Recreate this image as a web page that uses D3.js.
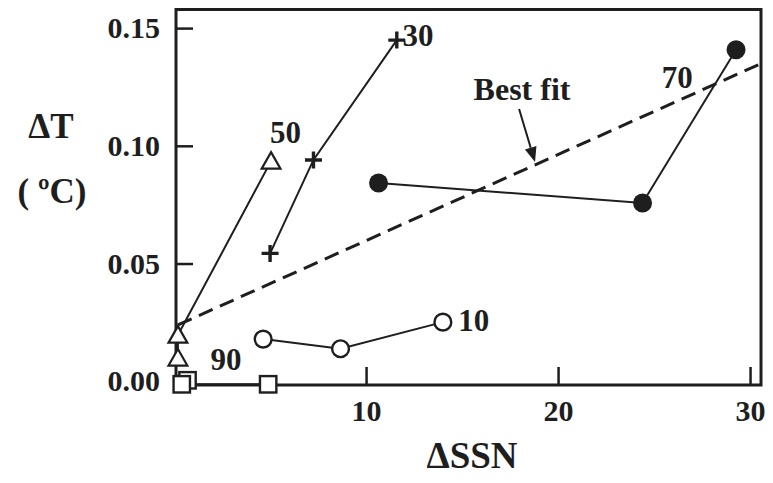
<!DOCTYPE html>
<html><head><meta charset="utf-8">
<script src="https://cdn.jsdelivr.net/npm/d3@7"></script>
<style>
body{margin:0;background:#fff}
svg{display:block}
text{font-family:"Liberation Serif","Times New Roman",serif;font-weight:bold;fill:#1e1e1e}
</style>
</head><body><svg id="c" width="773" height="483"></svg>
<script>
// ---- data ----
const xTicks = [10, 20, 30];
const yTicks = [0.00, 0.05, 0.10, 0.15];
const yTickLabels = ["0.00", "0.05", "0.10", "0.15"];

// series "10" (open circles)
const ssn10 = [4.64, 8.67, 14.0];
const dT10  = [0.0179, 0.0138, 0.0251];
// series "30" (plus)
const ssn30 = [5.0, 7.26, 11.6];
const dT30  = [0.0543, 0.094, 0.1449];
// series "50" (open triangles)
const ssn50 = [5.05, 0.2, 0.2];
const dT50  = [0.0935, 0.0196, 0.0099];
// series "70" (filled circles)
const ssn70 = [10.65, 24.4, 29.27];
const dT70  = [0.0842, 0.0757, 0.1408];
// series "90" (open squares) - back square first
const ssn90 = [0.7, 0.4, 4.9];
const dT90  = [0.0004, -0.0013, -0.0013];
// best fit line end points
const fitSSN = [0.2, 30.45];
const fitDT  = [0.0239, 0.1345];
// series labels
const labelText = ["10", "30", "50", "70", "90"];
const labelSSN  = [14.8, 11.9, 5.0, 25.4, 1.9];
const labelDT   = [0.0215, 0.1423, 0.1012, 0.1246, 0.0047];
// best-fit annotation
const annText = "Best fit";
const annSSN = 15.6, annDT = 0.1194;
const arrowSSN = [17.97, 18.8];
const arrowDT  = [0.1156, 0.0931];

// ---- layout ----
const L = 176, R = 761, T = 9.5, B = 385;
const svg = d3.select("#c");
const ink = "#1e1e1e";

const x = d3.scaleLinear().domain([0.1, 30.57]).range([L, R]);
const y = d3.scaleLinear().domain([-0.0016, 0.1579]).range([B, T]);

// axes with inward ticks
const fs = 30;
const gx = svg.append("g").attr("transform", `translate(0,${B})`)
  .call(d3.axisBottom(x).tickValues(xTicks).tickSize(-18).tickSizeOuter(0).tickPadding(15).tickFormat(d3.format("d")));
const gy = svg.append("g").attr("transform", `translate(${L},0)`)
  .call(d3.axisLeft(y).tickValues(yTicks).tickSize(-17).tickSizeOuter(0).tickPadding(16).tickFormat((d,i)=>yTickLabels[i]));
[gx, gy].forEach(g => {
  g.select(".domain").remove();
  g.selectAll("line").attr("stroke", ink).attr("stroke-width", 2.5);
  g.selectAll("text").attr("font-size", fs).attr("font-family", null).style("fill", ink);
});
gy.selectAll(".tick").filter(d => d === 0).select("line").remove();

// frame
svg.append("rect").attr("x", L).attr("y", T).attr("width", R - L).attr("height", B - T)
  .attr("fill", "none").attr("stroke", ink).attr("stroke-width", 3);

// axis titles
svg.append("text").attr("x", 51).attr("y", 138).attr("text-anchor", "middle").attr("font-size", 35).text("ΔT");
svg.append("text").attr("x", 52).attr("y", 203).attr("text-anchor", "middle").attr("font-size", 35).text("( ºC)");
svg.append("text").attr("x", 472).attr("y", 468).attr("text-anchor", "middle").attr("font-size", 37).text("ΔSSN");

// best fit
svg.append("line").attr("x1", x(fitSSN[0])).attr("y1", y(fitDT[0])).attr("x2", x(fitSSN[1])).attr("y2", y(fitDT[1]))
  .attr("stroke", ink).attr("stroke-width", 3).attr("stroke-dasharray", "15,8");

const line = d3.line().x(d => x(d[0])).y(d => y(d[1]));
const zip = (a, b) => a.map((v, i) => [v, b[i]]);
const series = [
  {pts: zip(ssn10, dT10), type: "circle"},
  {pts: zip(ssn30, dT30), type: "plus"},
  {pts: zip(ssn50, dT50), type: "triangle"},
  {pts: zip(ssn70, dT70), type: "dot"},
  {pts: zip(ssn90, dT90), type: "square", line: [[ssn90[1], dT90[1]], [ssn90[2], dT90[2]]]}
];
series.forEach(s => {
  svg.append("path").attr("d", line(s.line || s.pts)).attr("fill", "none").attr("stroke", ink).attr("stroke-width", 2);
});
series.forEach(s => {
  const g = svg.append("g");
  s.pts.forEach(p => {
    const cx = x(p[0]), cy = y(p[1]);
    if (s.type === "circle") {
      g.append("circle").attr("cx", cx).attr("cy", cy).attr("r", 8.4).attr("fill", "#fff").attr("stroke", ink).attr("stroke-width", 2.4);
    } else if (s.type === "dot") {
      g.append("circle").attr("cx", cx).attr("cy", cy).attr("r", 9.5).attr("fill", ink);
    } else if (s.type === "square") {
      g.append("rect").attr("x", cx - 8.2).attr("y", cy - 8.2).attr("width", 16.4).attr("height", 16.4).attr("fill", "#fff").attr("stroke", ink).attr("stroke-width", 2.4);
    } else if (s.type === "triangle") {
      g.append("path").attr("d", `M${cx},${cy-9}L${cx+9.4},${cy+7.6}L${cx-9.4},${cy+7.6}Z`).attr("fill", "#fff").attr("stroke", ink).attr("stroke-width", 2.2);
    } else if (s.type === "plus") {
      g.append("path").attr("d", `M${cx-8.5},${cy}H${cx+8.5}M${cx},${cy-8.5}V${cy+8.5}`).attr("stroke", ink).attr("stroke-width", 3.4);
    }
  });
});

// series labels
labelText.forEach((t, i) => {
  svg.append("text").attr("x", x(labelSSN[i])).attr("y", y(labelDT[i])).attr("font-size", 31).text(t);
});

// annotation
svg.append("text").attr("x", x(annSSN)).attr("y", y(annDT)).attr("font-size", 32).text(annText);
{
  const x1 = x(arrowSSN[0]), y1 = y(arrowDT[0]), x2 = x(arrowSSN[1]), y2 = y(arrowDT[1]);
  const ang = Math.atan2(y2 - y1, x2 - x1);
  const hl = 15, hw = 6;
  const bx = x2 - hl * Math.cos(ang), by = y2 - hl * Math.sin(ang);
  svg.append("line").attr("x1", x1).attr("y1", y1).attr("x2", bx).attr("y2", by).attr("stroke", ink).attr("stroke-width", 2);
  const px = -Math.sin(ang) * hw, py = Math.cos(ang) * hw;
  svg.append("path").attr("d", `M${x2},${y2}L${bx+px},${by+py}L${bx-px},${by-py}Z`).attr("fill", ink);
}
</script>
</body></html>
